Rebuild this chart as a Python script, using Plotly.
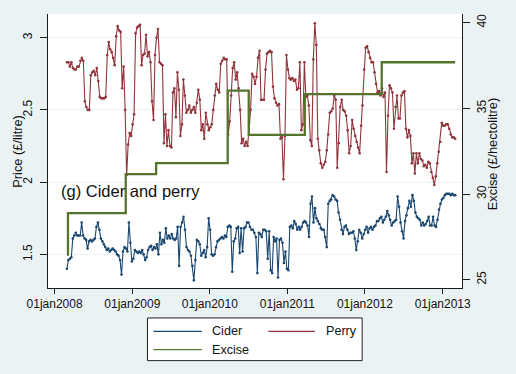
import pandas as pd
import plotly.graph_objects as go

# ---------------- data ----------------
start_date = "2008-02-28"
end_date = "2013-03-01"

cider = [
    1.40, 1.46, 1.47, 1.48, 1.61, 1.63, 1.65, 1.63, 1.63, 1.63,
    1.72, 1.63, 1.61, 1.60, 1.54, 1.59, 1.60, 1.59, 1.60, 1.61,
    1.69, 1.72, 1.67, 1.61, 1.59, 1.57, 1.55, 1.53, 1.54, 1.52,
    1.53, 1.54, 1.53, 1.52, 1.50, 1.49, 1.46, 1.36, 1.52, 1.55,
    1.54, 1.52, 1.72, 1.58, 1.45, 1.47, 1.53, 1.52, 1.51, 1.52,
    1.51, 1.53, 1.50, 1.46, 1.48, 1.53, 1.55, 1.56, 1.53,
    1.55, 1.54, 1.57, 1.50, 1.65, 1.57, 1.60, 1.58, 1.68, 1.61,
    1.63, 1.61, 1.64, 1.61, 1.60, 1.61, 1.69, 1.42, 1.69, 1.72,
    1.76, 1.67, 1.55, 1.53, 1.52, 1.49, 1.42, 1.32, 1.46, 1.60,
    1.59, 1.57, 1.49, 1.51, 1.53, 1.48, 1.55, 1.75, 1.67, 1.50,
    1.49, 1.50, 1.55, 1.59, 1.60, 1.61, 1.62, 1.61, 1.63, 1.62,
    1.69, 1.70, 1.69, 1.38, 1.59, 1.61, 1.68, 1.69, 1.51, 1.68,
    1.52, 1.68, 1.69, 1.72, 1.72, 1.69, 1.67, 1.67,
    1.65, 1.62, 1.37, 1.65, 1.64, 1.62, 1.67, 1.67, 1.66, 1.47,
    1.66, 1.39, 1.37, 1.62, 1.59, 1.61, 1.34, 1.60, 1.61, 1.58,
    1.44, 1.52, 1.40, 1.39, 1.69, 1.70, 1.68, 1.73, 1.71, 1.67,
    1.69, 1.67, 1.69, 1.72, 1.73, 1.72, 1.70, 1.62, 1.85, 1.90,
    1.72, 1.82, 1.75, 1.73, 1.71, 1.68, 1.67, 1.67, 1.62, 1.55,
    1.85, 1.87, 1.88, 1.91, 1.90, 1.88, 1.87, 1.79, 1.74, 1.67,
    1.64, 1.69, 1.70, 1.67, 1.64, 1.65, 1.65, 1.66, 1.61, 1.53,
    1.59, 1.67, 1.65, 1.61, 1.64, 1.67, 1.69, 1.65, 1.68, 1.69,
    1.67, 1.69, 1.70, 1.73, 1.73, 1.75, 1.76, 1.72, 1.74, 1.76,
    1.80, 1.77, 1.74, 1.70, 1.72, 1.73, 1.74, 1.90, 1.83, 1.72,
    1.66, 1.61, 1.73, 1.77, 1.82, 1.87, 1.83, 1.91, 1.87, 1.79,
    1.76, 1.75, 1.74, 1.70, 1.72, 1.70, 1.71, 1.73, 1.76, 1.70,
    1.70, 1.76, 1.70, 1.69, 1.74, 1.81, 1.85, 1.88, 1.89, 1.91,
    1.92, 1.92, 1.92, 1.91, 1.92, 1.91, 1.91,
]

perry = [
    2.83, 2.83, 2.80, 2.83, 2.79, 2.78, 2.78, 2.80, 2.80, 2.84,
    2.86, 2.84, 2.56, 2.52, 2.50, 2.50, 2.74, 2.76, 2.77, 2.74,
    2.79, 2.70, 2.59, 2.58, 2.58, 2.58, 2.59,
    2.88, 2.97, 2.92, 2.90, 2.86, 2.81, 3.01, 3.08, 3.05, 3.04,
    2.65, 2.80, 2.50, 2.05, 2.26, 2.34, 2.32, 2.40, 2.47, 3.03,
    3.07, 3.08, 3.09, 2.81, 2.88, 2.89, 3.02, 2.87, 2.90, 2.83,
    2.56, 2.43, 2.88, 3.00, 3.06, 2.83, 2.82, 2.81, 2.27, 2.47,
    2.25, 2.36, 2.25, 2.24, 2.62, 2.65, 2.45, 2.76, 2.64, 2.32,
    2.40, 2.71, 2.60, 2.48, 2.50, 2.53, 2.48, 2.50, 2.52, 2.48,
    2.55, 2.64,
    2.57, 2.36, 2.40, 2.30, 2.48, 2.40, 2.36, 2.38, 2.40, 2.50,
    2.60, 2.68, 2.64, 2.62, 2.82, 2.84, 2.86, 2.85, 2.85, 2.33,
    2.42, 2.60, 2.79, 2.83, 2.71, 2.76, 2.65, 2.50, 2.27, 2.30,
    2.25, 2.28, 2.25, 2.41, 2.50, 2.75, 2.73, 2.68, 2.73, 2.86,
    2.91, 2.57, 2.57, 2.57, 2.78, 2.89, 2.90, 2.91, 2.90, 2.66,
    2.58, 2.55, 2.53, 2.54, 2.30, 2.31, 2.02, 2.32, 2.88, 2.78,
    2.72, 2.71, 2.72, 2.70, 2.71, 2.64, 2.65, 2.83,
    2.36, 2.40, 2.83, 2.59, 2.60, 2.53, 2.29, 2.25, 2.85, 3.10,
    2.95, 2.30, 2.22, 2.13, 2.10, 2.12, 2.14, 2.22, 2.33, 2.48,
    2.49, 2.51, 2.60, 2.57, 2.10, 2.27, 2.52, 2.57, 2.50, 2.49,
    2.46, 2.36, 2.20, 2.25, 2.43, 2.37, 2.32, 2.28, 2.24, 2.20,
    2.39, 2.53, 2.78, 2.93, 2.94, 2.90, 2.86, 2.83, 2.83, 2.76,
    2.68, 2.62, 2.63, 2.60, 2.65, 2.59, 2.62, 2.07, 2.46, 2.67,
    2.65, 2.62, 2.37, 2.52, 2.60, 2.44, 2.44, 2.60, 2.62, 2.63,
    2.37, 2.31, 2.36, 2.32, 2.13, 2.20, 2.06, 2.20, 2.13, 2.20,
    2.16, 2.15, 2.11, 2.12, 2.10, 2.14, 2.13, 2.07, 2.03, 1.98,
    2.04, 2.13, 2.21, 2.28, 2.41, 2.39, 2.39, 2.40, 2.40, 2.37,
    2.33, 2.31, 2.31, 2.30,
]

excise_dates = ["2008-02-28", "2008-03-04", "2008-12-01", "2009-04-23",
                "2010-03-26", "2010-07-03", "2011-03-24", "2012-03-20",
                "2013-03-01"]
excise = [26.46, 28.89, 31.16, 31.80, 36.04, 33.45, 35.83, 37.69, 37.69]

xtick_dates = ["2008-01-01", "2009-01-01", "2010-01-01",
               "2011-01-01", "2012-01-01", "2013-01-01"]
xtick_labels = ["01jan2008", "01jan2009", "01jan2010",
                "01jan2011", "01jan2012", "01jan2013"]
price_ticks = [1.5, 2, 2.5, 3]
price_labels = ["1.5", "2", "2.5", "3"]
excise_ticks = [25, 30, 35, 40]
excise_labels = ["25", "30", "35", "40"]

# ---------------- styling ----------------
FONT = "Liberation Sans, Arial, Helvetica, sans-serif"
BG = "#eaf2f3"
C_CIDER = "#1a476f"
C_PERRY = "#90353b"
C_EXCISE = "#55752f"
AXIS = "#1a1a1a"

cider_dates = pd.date_range(start_date, end_date, periods=len(cider))
perry_dates = pd.date_range(start_date, end_date, periods=len(perry))

fig = go.Figure()
fig.add_trace(go.Scatter(
    x=cider_dates, y=cider, mode="lines+markers", name="Cider",
    line=dict(color=C_CIDER, width=1.1), marker=dict(size=2.6, color=C_CIDER),
    yaxis="y"))
fig.add_trace(go.Scatter(
    x=perry_dates, y=perry, mode="lines+markers", name="Perry",
    line=dict(color=C_PERRY, width=1.1), marker=dict(size=2.6, color=C_PERRY),
    yaxis="y"))
fig.add_trace(go.Scatter(
    x=excise_dates, y=excise, mode="lines", name="Excise",
    line=dict(color=C_EXCISE, width=2.3, shape="hv"), yaxis="y2"))

# plot-area geometry in pixels
W, H = 516, 374
PL, PR, PT, PB = 47.7, 462.3, 14.0, 288.3


def xp(px):
    return (px - PL) / (PR - PL)


def yp(py):
    return (PB - py) / (PB - PT)


fig.update_layout(
    width=W, height=H,
    margin=dict(l=PL, r=W - PR, t=PT, b=H - PB, pad=0),
    paper_bgcolor=BG, plot_bgcolor="white",
    showlegend=False,
    font=dict(family=FONT, size=12, color="#111"),
    xaxis=dict(
        type="date", range=["2007-12-01", "2013-04-02"],
        tickvals=xtick_dates, ticktext=xtick_labels,
        showgrid=False, zeroline=False,
        showline=True, linecolor=AXIS, linewidth=1,
        ticks="outside", ticklen=5, tickcolor=AXIS,
        tickfont=dict(size=12), automargin=False,
    ),
    yaxis=dict(
        range=[1.267, 3.164], tickvals=price_ticks, ticktext=price_labels,
        tickangle=-90, showgrid=True, gridcolor=BG, gridwidth=1,
        zeroline=False, showline=True, linecolor=AXIS, linewidth=1,
        ticks="outside", ticklen=7, tickcolor=AXIS, tickfont=dict(size=12),
        ticklabelstandoff=3, automargin=False,
    ),
    yaxis2=dict(
        range=[24.516, 40.507], tickvals=excise_ticks, ticktext=excise_labels,
        overlaying="y", side="right", tickangle=-90,
        showgrid=False, zeroline=False, showline=True, linecolor=AXIS,
        linewidth=1, ticks="outside", ticklen=7, tickcolor=AXIS,
        tickfont=dict(size=12), ticklabelstandoff=2, automargin=False,
    ),
)

annotations = [
    # panel label inside the plot
    dict(text="(g) Cider and perry", xref="paper", yref="paper",
         x=xp(58.5), y=yp(191), xanchor="left", yanchor="middle",
         showarrow=False, font=dict(size=16.5, color="#111", family=FONT)),
    # axis titles
    dict(text="Price (£/litre)", xref="paper", yref="paper",
         x=xp(17), y=yp(151.5), xanchor="center", yanchor="middle",
         textangle=-90, showarrow=False, font=dict(size=12.8, color="#111")),
    dict(text="Excise (£/hectolitre)", xref="paper", yref="paper",
         x=xp(492.7), y=yp(154), xanchor="center", yanchor="middle",
         textangle=-90, showarrow=False, font=dict(size=12.8, color="#111")),
]

# hand-built two-column legend (Stata style)
shapes = [dict(type="rect", xref="paper", yref="paper",
               x0=xp(147.3), x1=xp(362.3), y0=yp(361), y1=yp(318.3),
               line=dict(color="#222", width=1), fillcolor="white", layer="above")]
legend_items = [("Cider", C_CIDER, 153.3, 201.7, 210, 331.7),
                ("Excise", C_EXCISE, 153.3, 201.7, 210, 350),
                ("Perry", C_PERRY, 268.3, 315, 324.3, 331.7)]
for name, col, lx0, lx1, tx, ty in legend_items:
    shapes.append(dict(type="line", xref="paper", yref="paper",
                       x0=xp(lx0), x1=xp(lx1), y0=yp(ty), y1=yp(ty),
                       line=dict(color=col, width=1.2), layer="above"))
    annotations.append(dict(text=name, xref="paper", yref="paper",
                            x=xp(tx), y=yp(ty), xanchor="left", yanchor="middle",
                            showarrow=False, font=dict(size=12.6, color="#111")))

fig.update_layout(shapes=shapes, annotations=annotations)

fig.write_html(
    "out.html",
    config={"displayModeBar": False},
    post_script="document.body.style.margin='0';document.body.style.background='%s';" % BG,
)
